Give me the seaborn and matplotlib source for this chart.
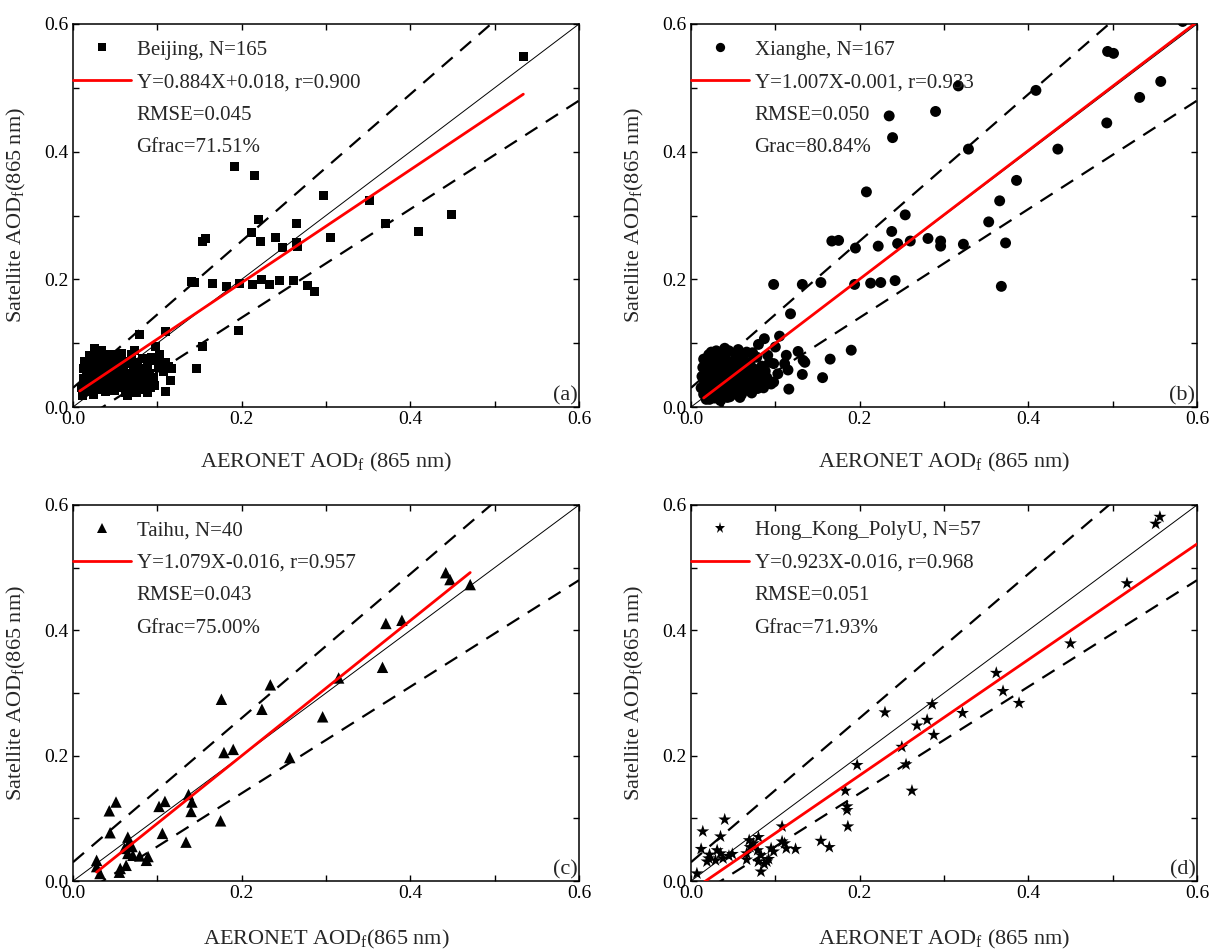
import numpy as np
import pandas as pd
import matplotlib
matplotlib.use('Agg')
import matplotlib.pyplot as plt
from matplotlib.lines import Line2D
from matplotlib.ticker import MultipleLocator
import seaborn as sns

# ---------------- data ----------------
beijing = [
    (0.534, 0.549), (0.192, 0.376), (0.215, 0.362), (0.297, 0.332), (0.352, 0.323),
    (0.449, 0.301), (0.370, 0.288), (0.410, 0.275), (0.220, 0.294), (0.265, 0.288),
    (0.212, 0.273), (0.222, 0.260), (0.240, 0.266), (0.249, 0.250), (0.265, 0.257),
    (0.266, 0.251), (0.305, 0.266), (0.154, 0.259), (0.157, 0.264), (0.140, 0.197),
    (0.144, 0.195), (0.165, 0.193), (0.182, 0.188), (0.198, 0.193), (0.213, 0.192),
    (0.223, 0.199), (0.233, 0.192), (0.245, 0.198), (0.261, 0.198), (0.278, 0.191),
    (0.286, 0.181), (0.196, 0.120), (0.153, 0.094), (0.146, 0.060), (0.110, 0.118),
    (0.079, 0.113), (0.098, 0.094), (0.116, 0.041), (0.110, 0.024), (0.073, 0.089),
    (0.010, 0.030), (0.012, 0.045), (0.013, 0.060), (0.014, 0.072), (0.015, 0.038),
    (0.016, 0.052), (0.017, 0.025), (0.018, 0.066), (0.019, 0.080), (0.020, 0.043),
    (0.021, 0.057), (0.022, 0.033), (0.023, 0.070), (0.024, 0.020), (0.025, 0.049),
    (0.026, 0.062), (0.027, 0.085), (0.028, 0.038), (0.029, 0.075), (0.030, 0.055),
    (0.031, 0.028), (0.032, 0.046), (0.033, 0.066), (0.034, 0.088), (0.035, 0.035),
    (0.036, 0.058), (0.037, 0.078), (0.038, 0.042), (0.039, 0.024), (0.040, 0.064),
    (0.041, 0.050), (0.042, 0.072), (0.043, 0.032), (0.044, 0.056), (0.045, 0.045),
    (0.046, 0.068), (0.047, 0.038), (0.048, 0.060), (0.049, 0.026), (0.050, 0.052),
    (0.011, 0.018), (0.014, 0.035), (0.017, 0.048), (0.019, 0.062), (0.021, 0.076),
    (0.023, 0.040), (0.025, 0.030), (0.027, 0.053), (0.029, 0.047), (0.031, 0.069),
    (0.033, 0.041), (0.035, 0.072), (0.037, 0.031), (0.039, 0.054), (0.041, 0.082),
    (0.043, 0.061), (0.045, 0.036), (0.047, 0.050), (0.016, 0.058), (0.020, 0.070),
    (0.052, 0.064), (0.054, 0.040), (0.055, 0.075), (0.057, 0.048), (0.058, 0.030),
    (0.060, 0.058), (0.061, 0.068), (0.063, 0.044), (0.064, 0.036), (0.066, 0.072),
    (0.067, 0.053), (0.069, 0.082), (0.070, 0.040), (0.072, 0.062), (0.073, 0.030),
    (0.075, 0.055), (0.076, 0.070), (0.078, 0.046), (0.080, 0.038), (0.081, 0.060),
    (0.083, 0.076), (0.084, 0.028), (0.086, 0.052), (0.088, 0.066), (0.089, 0.040),
    (0.091, 0.052), (0.093, 0.078), (0.095, 0.046), (0.097, 0.034), (0.099, 0.073),
    (0.101, 0.062), (0.103, 0.082), (0.105, 0.068), (0.107, 0.056), (0.110, 0.070),
    (0.113, 0.064), (0.117, 0.060), (0.065, 0.018), (0.075, 0.022), (0.088, 0.022),
    (0.058, 0.084), (0.062, 0.022), (0.050, 0.082), (0.092, 0.030), (0.026, 0.092),
    (0.031, 0.086),
]

xianghe = [
    (0.583, 0.604), (0.494, 0.557), (0.501, 0.554), (0.317, 0.503), (0.409, 0.496),
    (0.557, 0.510), (0.532, 0.485), (0.290, 0.463), (0.235, 0.456), (0.239, 0.422),
    (0.493, 0.445), (0.329, 0.404), (0.435, 0.404), (0.386, 0.355), (0.208, 0.337),
    (0.366, 0.323), (0.353, 0.290), (0.254, 0.301), (0.238, 0.275), (0.167, 0.260),
    (0.175, 0.261), (0.195, 0.249), (0.222, 0.252), (0.245, 0.256), (0.260, 0.260),
    (0.281, 0.264), (0.296, 0.260), (0.296, 0.252), (0.323, 0.255), (0.373, 0.257),
    (0.368, 0.189), (0.098, 0.192), (0.132, 0.192), (0.154, 0.195), (0.194, 0.192),
    (0.213, 0.194), (0.225, 0.195), (0.242, 0.198), (0.118, 0.146), (0.190, 0.089),
    (0.165, 0.075), (0.156, 0.046), (0.116, 0.028), (0.132, 0.051), (0.133, 0.073),
    (0.135, 0.070), (0.127, 0.087), (0.113, 0.081), (0.100, 0.094), (0.105, 0.111),
    (0.087, 0.107), (0.080, 0.098), (0.073, 0.085), (0.091, 0.081), (0.098, 0.068),
    (0.111, 0.068), (0.115, 0.058), (0.103, 0.052), (0.098, 0.039), (0.085, 0.039),
    (0.079, 0.029), (0.058, 0.015), (0.043, 0.015), (0.022, 0.012),
    (0.012, 0.030), (0.013, 0.048), (0.014, 0.062), (0.015, 0.075), (0.016, 0.038),
    (0.017, 0.055), (0.018, 0.022), (0.019, 0.068), (0.020, 0.044), (0.021, 0.082),
    (0.022, 0.031), (0.023, 0.058), (0.024, 0.072), (0.025, 0.016), (0.026, 0.050),
    (0.027, 0.064), (0.028, 0.039), (0.029, 0.078), (0.030, 0.026), (0.031, 0.056),
    (0.032, 0.046), (0.033, 0.070), (0.034, 0.034), (0.035, 0.060), (0.036, 0.084),
    (0.037, 0.020), (0.038, 0.050), (0.039, 0.066), (0.040, 0.040), (0.041, 0.076),
    (0.042, 0.030), (0.043, 0.058), (0.044, 0.048), (0.045, 0.088), (0.046, 0.068),
    (0.047, 0.036), (0.048, 0.054), (0.049, 0.024), (0.050, 0.072), (0.051, 0.044),
    (0.052, 0.062), (0.053, 0.082), (0.054, 0.032), (0.055, 0.052), (0.056, 0.090),
    (0.057, 0.040), (0.058, 0.070), (0.059, 0.028), (0.060, 0.058), (0.061, 0.046),
    (0.062, 0.078), (0.063, 0.036), (0.064, 0.064), (0.065, 0.050), (0.066, 0.086),
    (0.067, 0.030), (0.068, 0.056), (0.069, 0.042), (0.070, 0.070), (0.072, 0.034),
    (0.074, 0.060), (0.076, 0.046), (0.078, 0.078), (0.080, 0.052), (0.082, 0.038),
    (0.084, 0.064), (0.086, 0.030), (0.088, 0.056), (0.090, 0.046), (0.093, 0.070),
    (0.095, 0.036), (0.018, 0.012), (0.028, 0.014), (0.035, 0.010), (0.046, 0.016),
    (0.060, 0.020), (0.072, 0.022), (0.030, 0.088), (0.040, 0.092), (0.015, 0.020),
    (0.024, 0.086),
]

taihu = [
    (0.442, 0.492), (0.447, 0.481), (0.471, 0.473), (0.371, 0.411), (0.390, 0.416),
    (0.367, 0.341), (0.315, 0.324), (0.234, 0.313), (0.176, 0.290), (0.224, 0.274),
    (0.296, 0.262), (0.179, 0.205), (0.190, 0.210), (0.257, 0.197), (0.137, 0.138),
    (0.141, 0.126), (0.140, 0.111), (0.175, 0.096), (0.134, 0.062), (0.109, 0.127),
    (0.102, 0.119), (0.106, 0.076), (0.051, 0.126), (0.043, 0.112), (0.044, 0.077),
    (0.065, 0.070), (0.066, 0.060), (0.071, 0.041), (0.065, 0.044), (0.079, 0.040),
    (0.089, 0.039), (0.087, 0.033), (0.063, 0.025), (0.056, 0.020), (0.055, 0.014),
    (0.028, 0.033), (0.028, 0.023), (0.032, 0.012), (0.061, 0.052), (0.070, 0.055),
]

hongkong = [
    (0.556, 0.581), (0.551, 0.570), (0.517, 0.475), (0.450, 0.379), (0.362, 0.332),
    (0.370, 0.303), (0.389, 0.284), (0.286, 0.282), (0.280, 0.257), (0.268, 0.248),
    (0.288, 0.233), (0.322, 0.268), (0.230, 0.269), (0.250, 0.214), (0.255, 0.186),
    (0.262, 0.144), (0.197, 0.185), (0.183, 0.144), (0.185, 0.119), (0.186, 0.087),
    (0.164, 0.054), (0.154, 0.064), (0.040, 0.098), (0.014, 0.079), (0.035, 0.071),
    (0.012, 0.051), (0.031, 0.049), (0.035, 0.044), (0.021, 0.036), (0.019, 0.031),
    (0.029, 0.033), (0.038, 0.036), (0.049, 0.043), (0.007, 0.012), (0.069, 0.065),
    (0.080, 0.070), (0.070, 0.054), (0.066, 0.034), (0.079, 0.049), (0.083, 0.041),
    (0.080, 0.031), (0.090, 0.031), (0.087, 0.027), (0.083, 0.015), (0.095, 0.052),
    (0.098, 0.047), (0.108, 0.087), (0.108, 0.063), (0.111, 0.060), (0.113, 0.052),
    (0.124, 0.051), (0.185, 0.113), (0.045, 0.040), (0.066, 0.044), (0.074, 0.060),
    (0.022, 0.042), (0.092, 0.035),
]

site_names = ["Beijing", "Xianghe", "Taihu", "Hong_Kong_PolyU"]
site_n = [165, 167, 40, 57]
fit_slope = [0.884, 1.007, 1.079, 0.923]
fit_intercept = [0.018, -0.001, -0.016, -0.016]
fit_r = [0.900, 0.933, 0.957, 0.968]
fit_xrange = [(0.008, 0.534), (0.015, 0.60), (0.028, 0.471), (0.0, 0.60)]
rmse = ["0.045", "0.050", "0.043", "0.051"]
gfrac_labels = ["Gfrac=71.51%", "Grac=80.84%", "Gfrac=75.00%", "Gfrac=71.93%"]
panel_tags = ["(a)", "(b)", "(c)", "(d)"]
xlabels = [r"AERONET AOD$_\mathrm{f}$ (865 nm)", r"AERONET AOD$_\mathrm{f}$ (865 nm)",
           r"AERONET AOD$_\mathrm{f}$(865 nm)", r"AERONET AOD$_\mathrm{f}$ (865 nm)"]
ylabel = r"Satellite AOD$_\mathrm{f}$(865 nm)"
ee_abs, ee_rel = 0.03, 0.15

markers = ["s", "o", "^", "*"]
msizes = [42, 62, 68, 95]
datasets = [beijing, xianghe, taihu, hongkong]

# ---------------- style ----------------
sns.set_style("ticks")
plt.rcParams['font.family'] = ['Liberation Serif', 'DejaVu Serif']
plt.rcParams['mathtext.fontset'] = 'custom'
plt.rcParams['mathtext.rm'] = 'Liberation Serif'
plt.rcParams['mathtext.it'] = 'Liberation Serif:italic'
plt.rcParams['mathtext.bf'] = 'Liberation Serif:bold'

fig = plt.figure(figsize=(12.09, 9.51), dpi=100)
rects = [
    [73 / 1209, (951 - 407) / 951, 506 / 1209, 383 / 951],
    [691 / 1209, (951 - 407) / 951, 506 / 1209, 383 / 951],
    [73 / 1209, (951 - 881) / 951, 506 / 1209, 376 / 951],
    [691 / 1209, (951 - 881) / 951, 506 / 1209, 376 / 951],
]

for i in range(4):
    ax = fig.add_axes(rects[i])
    pts = np.array(datasets[i])
    df = pd.DataFrame({"x": pts[:, 0], "y": pts[:, 1]})
    sns.scatterplot(data=df, x="x", y="y", marker=markers[i], s=msizes[i],
                    color="black", edgecolor="none", linewidth=0, ax=ax,
                    legend=False, zorder=3)
    lim = np.array([0.0, 0.6])
    # 1:1 line
    ax.plot(lim, lim, color="black", lw=0.7, zorder=4)
    # expected-error envelope
    ax.plot(lim, lim * (1 + ee_rel) + ee_abs, color="black", lw=1.6,
            dashes=(6.5, 4.5), zorder=4)
    ax.plot(lim, lim * (1 - ee_rel) - ee_abs, color="black", lw=1.6,
            dashes=(6.5, 4.5), zorder=4)
    # regression line
    xr = np.array(fit_xrange[i])
    ax.plot(xr, fit_slope[i] * xr + fit_intercept[i], color="red", lw=2.0, zorder=5)

    ax.set_xlim(0, 0.6)
    ax.set_ylim(0, 0.6)
    ax.xaxis.set_major_locator(MultipleLocator(0.2))
    ax.yaxis.set_major_locator(MultipleLocator(0.2))
    ax.xaxis.set_minor_locator(MultipleLocator(0.1))
    ax.yaxis.set_minor_locator(MultipleLocator(0.1))
    ax.set_xticklabels([f"{v:.1f}" for v in ax.get_xticks()])
    ax.set_yticklabels([f"{v:.1f}" for v in ax.get_yticks()])
    ax.tick_params(which="both", direction="in", top=True, right=True,
                   length=4, width=1.0, labelsize=14, pad=3, color="black",
                   labelcolor="black")
    for sp in ax.spines.values():
        sp.set_visible(True)
        sp.set_linewidth(1.1)
        sp.set_color("black")

    ax.set_xlabel(xlabels[i], fontsize=16)
    ax.set_ylabel(ylabel, fontsize=16)
    ax.xaxis.set_label_coords(0.5, -0.115 if i < 2 else -0.125)
    ax.yaxis.set_label_coords(-0.088, 0.5)

    sign = "+" if fit_intercept[i] >= 0 else "-"
    eq = f"Y={fit_slope[i]:.3f}X{sign}{abs(fit_intercept[i]):.3f}, r={fit_r[i]:.3f}"
    handles = [
        Line2D([], [], marker=markers[i], ls="none", color="black",
               markersize=np.sqrt(msizes[i]) * 0.85, markeredgewidth=0),
        Line2D([], [], color="red", lw=2.0),
        Line2D([], [], ls="none"),
        Line2D([], [], ls="none"),
    ]
    labels = [f"{site_names[i]}, N={site_n[i]}", eq, f"RMSE={rmse[i]}", gfrac_labels[i]]
    ax.legend(handles, labels, loc="upper left", bbox_to_anchor=(0.0, 0.958),
              frameon=False, fontsize=15, borderpad=0, borderaxespad=0,
              handlelength=2.8, handletextpad=0.25, labelspacing=0.62)

    ax.text(0.997, 0.004, panel_tags[i], transform=ax.transAxes, ha="right",
            va="bottom", fontsize=16)

fig.savefig("out.png", dpi=100)
